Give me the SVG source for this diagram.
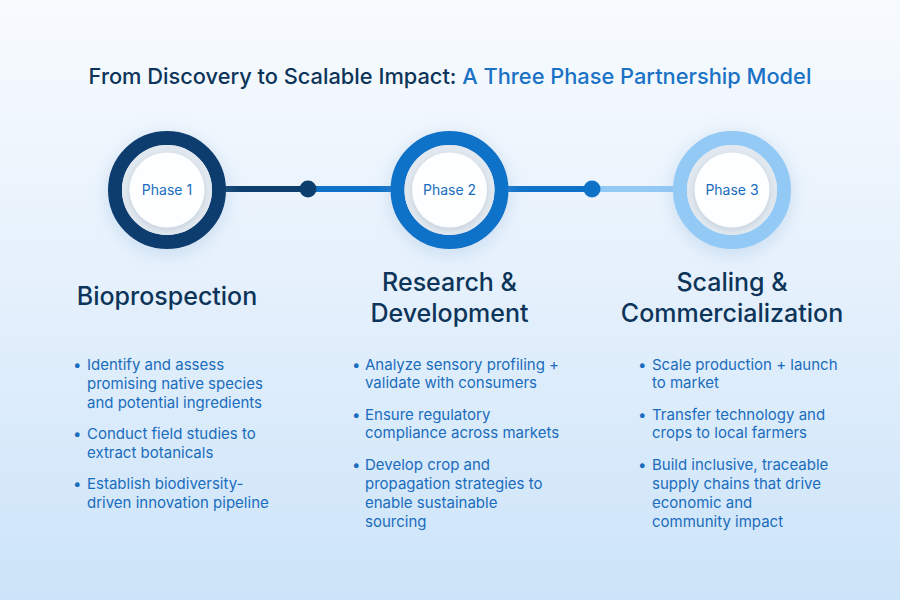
<svg xmlns="http://www.w3.org/2000/svg" width="900" height="600" viewBox="0 0 900 600">
  <defs>
    <linearGradient id="bg" x1="0" y1="0" x2="0" y2="1">
      <stop offset="0" stop-color="#f8fbfe"/>
      <stop offset="0.45" stop-color="#e6f1fc"/>
      <stop offset="1" stop-color="#cce4f9"/>
    </linearGradient>
    <filter id="glow" x="-50%" y="-50%" width="200%" height="200%">
      <feGaussianBlur in="SourceAlpha" stdDeviation="9"/>
      <feOffset dx="0" dy="4" result="b"/>
      <feFlood flood-color="#7fa9d6" flood-opacity="0.35"/>
      <feComposite in2="b" operator="in"/>
      <feMerge><feMergeNode/><feMergeNode in="SourceGraphic"/></feMerge>
    </filter>
    <filter id="inner" x="-30%" y="-30%" width="160%" height="160%">
      <feGaussianBlur in="SourceAlpha" stdDeviation="3"/>
      <feOffset dx="0" dy="2" result="b"/>
      <feFlood flood-color="#9fb2c6" flood-opacity="0.45"/>
      <feComposite in2="b" operator="in"/>
      <feMerge><feMergeNode/><feMergeNode in="SourceGraphic"/></feMerge>
    </filter>
  </defs>
  <style>
    .title { font-family: Inter, "Liberation Sans", sans-serif; font-size: 21.8px; font-weight: 500; }
    .head { font-family: Inter, "Liberation Sans", sans-serif; font-size: 25px; font-weight: 500; fill: #0d3459; text-anchor: middle; }
    .phase { font-family: Inter, "Liberation Sans", sans-serif; font-size: 14px; fill: #1a6cbd; text-anchor: middle; }
    .body { font-family: Inter, "Liberation Sans", sans-serif; font-size: 15px; fill: #1a6cbd; }
    .gray { fill: #e1e8ef; }
    .white { fill: #fdfeff; }
  </style>
  <rect x="0" y="0" width="900" height="600" fill="url(#bg)"/>

  <text class="title" x="450" y="84" text-anchor="middle"><tspan fill="#0d3459">From Discovery to Scalable Impact: </tspan><tspan fill="#1a72c6">A Three Phase Partnership Model</tspan></text>

  <g id="connectors">
    <line x1="220" y1="189" x2="308" y2="189" stroke="#0c3e6e" stroke-width="6"/>
    <line x1="308" y1="189" x2="400" y2="189" stroke="#0f72c8" stroke-width="6"/>
    <line x1="500" y1="189" x2="592" y2="189" stroke="#0f72c8" stroke-width="6"/>
    <line x1="592" y1="189" x2="680" y2="189" stroke="#93c9f5" stroke-width="6"/>
    <circle cx="308" cy="189" r="8.5" fill="#0c3e6e"/>
    <circle cx="592" cy="189" r="8.5" fill="#0f72c8"/>
  </g>

  <g id="phase1">
    <circle cx="167" cy="190" r="52" fill="none" stroke="#0c3e6e" stroke-width="14" filter="url(#glow)"/>
    <circle class="gray" cx="167" cy="190" r="45"/>
    <circle class="white" cx="167" cy="190" r="37.5" filter="url(#inner)"/>
    <text class="phase" x="167" y="195">Phase 1</text>
    <text class="head" x="167" y="305">Bioprospection</text>
    <g class="body">
      <text x="73" y="370">•</text>
      <text x="87" y="370">Identify and assess</text>
      <text x="87" y="389">promising native species</text>
      <text x="87" y="408">and potential ingredients</text>
      <text x="73" y="439">•</text>
      <text x="87" y="439">Conduct field studies to</text>
      <text x="87" y="458">extract botanicals</text>
      <text x="73" y="489">•</text>
      <text x="87" y="489">Establish biodiversity-</text>
      <text x="87" y="508">driven innovation pipeline</text>
    </g>
  </g>

  <g id="phase2">
    <circle cx="449.5" cy="190" r="52" fill="none" stroke="#0f72c8" stroke-width="14" filter="url(#glow)"/>
    <circle class="gray" cx="449.5" cy="190" r="45"/>
    <circle class="white" cx="449.5" cy="190" r="37.5" filter="url(#inner)"/>
    <text class="phase" x="449.5" y="195">Phase 2</text>
    <text class="head" x="449.5" y="291">Research &amp;</text>
    <text class="head" x="449.5" y="322">Development</text>
    <g class="body">
      <text x="352" y="370">•</text>
      <text x="365" y="370">Analyze sensory profiling +</text>
      <text x="365" y="388">validate with consumers</text>
      <text x="352" y="420">•</text>
      <text x="365" y="420">Ensure regulatory</text>
      <text x="365" y="438">compliance across markets</text>
      <text x="352" y="470">•</text>
      <text x="365" y="470">Develop crop and</text>
      <text x="365" y="489">propagation strategies to</text>
      <text x="365" y="508">enable sustainable</text>
      <text x="365" y="527">sourcing</text>
    </g>
  </g>

  <g id="phase3">
    <circle cx="732" cy="190" r="52" fill="none" stroke="#93c9f5" stroke-width="14" filter="url(#glow)"/>
    <circle class="gray" cx="732" cy="190" r="45"/>
    <circle class="white" cx="732" cy="190" r="37.5" filter="url(#inner)"/>
    <text class="phase" x="732" y="195">Phase 3</text>
    <text class="head" x="732" y="291">Scaling &amp;</text>
    <text class="head" x="732" y="322">Commercialization</text>
    <g class="body">
      <text x="638" y="370">•</text>
      <text x="652" y="370">Scale production + launch</text>
      <text x="652" y="388">to market</text>
      <text x="638" y="420">•</text>
      <text x="652" y="420">Transfer technology and</text>
      <text x="652" y="438">crops to local farmers</text>
      <text x="638" y="470">•</text>
      <text x="652" y="470">Build inclusive, traceable</text>
      <text x="652" y="489">supply chains that drive</text>
      <text x="652" y="508">economic and</text>
      <text x="652" y="527">community impact</text>
    </g>
  </g>
</svg>
